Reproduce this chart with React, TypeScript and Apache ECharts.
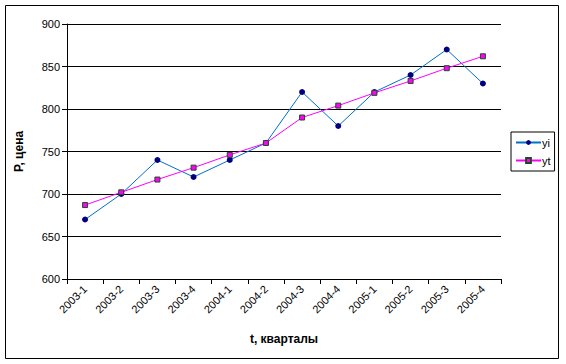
import React, { useEffect, useRef } from "react";
import * as echarts from "echarts";

const categories = ["2003-1", "2003-2", "2003-3", "2003-4", "2004-1", "2004-2", "2004-3", "2004-4", "2005-1", "2005-2", "2005-3", "2005-4"];
const yiValues = [670, 700, 740, 720, 740, 760, 820, 780, 820, 840, 870, 830];
const ytValues = [687, 702, 717, 731, 746, 760, 790, 804, 819, 833, 848, 862];

const FONT = "'Liberation Sans', Arial, sans-serif";

export default function App() {
  const ref = useRef<HTMLDivElement>(null);
  useEffect(() => {
    document.body.style.margin = "0";
    const chart = echarts.init(ref.current!, null, { renderer: "svg" });
    chart.setOption({
      animation: false,
      backgroundColor: "#ffffff",
      textStyle: { fontFamily: FONT },
      graphic: [
        {
          type: "rect",
          shape: { x: 5.5, y: 5.5, width: 553, height: 353 },
          style: { fill: "none", stroke: "#000", lineWidth: 1 },
          silent: true,
        },
      ],
      grid: { left: 67, right: 65, top: 24, bottom: 85, containLabel: false },
      legend: {
        orient: "vertical",
        left: 511,
        top: 132,
        borderColor: "#000",
        borderWidth: 1,
        padding: [5, 4, 5, 4],
        itemGap: 7,
        itemWidth: 25,
        itemHeight: 6,
        textStyle: { fontFamily: FONT, fontSize: 11, color: "#000", padding: [0, 0, 0, -4] },
        data: ["yi", "yt"],
      },
      xAxis: {
        type: "category",
        data: categories,
        boundaryGap: true,
        name: "t, кварталы",
        nameLocation: "middle",
        nameGap: 54,
        nameTextStyle: { fontFamily: FONT, fontSize: 12, fontWeight: "bold", color: "#000" },
        axisLine: { lineStyle: { color: "#000", width: 1 } },
        axisTick: { show: true, alignWithLabel: false, length: 5, lineStyle: { color: "#000" } },
        axisLabel: { rotate: 45, fontFamily: FONT, fontSize: 11, color: "#000", margin: 8, interval: 0 },
        splitLine: { show: false },
      },
      yAxis: {
        type: "value",
        min: 600,
        max: 900,
        interval: 50,
        name: "P, цена",
        nameLocation: "middle",
        nameGap: 42,
        nameTextStyle: { fontFamily: FONT, fontSize: 12, fontWeight: "bold", color: "#000" },
        axisLine: { show: true, lineStyle: { color: "#000", width: 1 } },
        axisTick: { show: true, length: 5, lineStyle: { color: "#000" } },
        axisLabel: { fontFamily: FONT, fontSize: 11, color: "#000", margin: 7 },
        splitLine: { show: true, lineStyle: { color: "#000", width: 1 } },
      },
      series: [
        {
          name: "yi",
          type: "line",
          data: yiValues,
          symbol: "circle",
          symbolSize: 6,
          lineStyle: { color: "#0070c8", width: 1 },
          itemStyle: { color: "#000080", borderColor: "#000080", borderWidth: 0 },
        },
        {
          name: "yt",
          type: "line",
          data: ytValues,
          symbol: "rect",
          symbolSize: 5,
          lineStyle: { color: "#ff00ff", width: 1 },
          itemStyle: { color: "#ff00ff", borderColor: "#1f4a1f", borderWidth: 1 },
        },
      ],
    });
    return () => chart.dispose();
  }, []);
  return <div ref={ref} style={{ position: "absolute", left: 0, top: 0, width: 566, height: 364 }} />;
}
